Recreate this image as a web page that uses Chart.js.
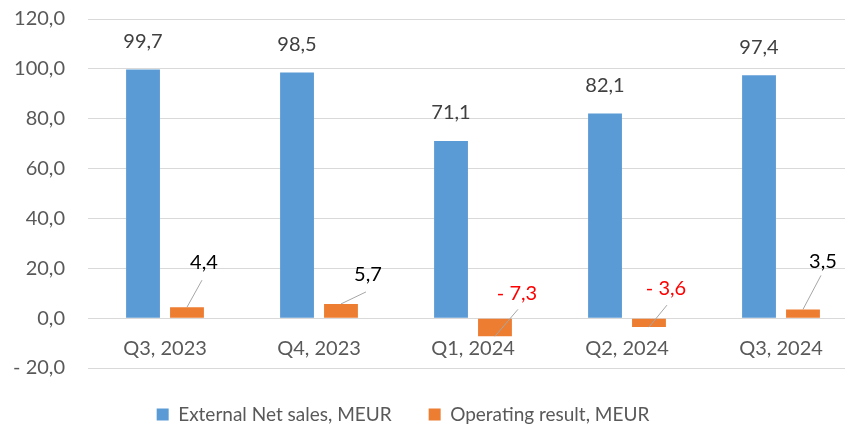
<!DOCTYPE html>
<html>
<head>
<meta charset="utf-8">
<script src="https://cdn.jsdelivr.net/npm/chart.js@4"></script>
<style>
  html, body { margin: 0; padding: 0; background: #fff; overflow: hidden; }
  #wrap { width: 858px; height: 427px; position: relative; }
</style>
</head>
<body>
<div id="wrap"><canvas id="chart"></canvas></div>
<script>
// Dữ liệu biểu đồ
const quarters = ["Q3, 2023", "Q4, 2023", "Q1, 2024", "Q2, 2024", "Q3, 2024"];
const netSales = [99.7, 98.5, 71.1, 82.1, 97.4];
const operatingResult = [4.4, 5.7, -7.3, -3.6, 3.5];
const yTicks = [-20, 0, 20, 40, 60, 80, 100, 120];

const FONT = "Lato, 'Liberation Sans', sans-serif";

// Định dạng số kiểu "- 7,3"
function fmt(v) {
    return (v < 0 ? "- " : "") + Math.abs(v).toFixed(1).replace(".", ",");
}

// Vẽ nhãn giá trị và đường dẫn cho cột cam
const valueLabels = {
    id: "valueLabels",
    beforeDraw(chart) {
        // canh chú thích theo vùng nhìn thấy 845px
        if (chart.legend) {
            chart.legend.right = 806;
        }
    },
    afterDatasetsDraw(chart, args, opts) {
        const ctx = chart.ctx;
        ctx.save();
        ctx.font = "20px " + FONT;
        ctx.textAlign = "center";
        ctx.textBaseline = "middle";

        chart.getDatasetMeta(0).data.forEach((bar, i) => {
            ctx.fillStyle = "#404040";
            ctx.fillText(fmt(netSales[i]), bar.x, bar.y - 28);
        });

        chart.getDatasetMeta(1).data.forEach((bar, i) => {
            const v = operatingResult[i];
            const off = opts.offsets[i];
            ctx.strokeStyle = "#A6A6A6";
            ctx.lineWidth = 1;
            ctx.beginPath();
            ctx.moveTo(bar.x, bar.y);
            ctx.lineTo(bar.x + off.line[0], bar.y + off.line[1]);
            ctx.stroke();
            ctx.fillStyle = v < 0 ? "#FF0000" : "#000000";
            ctx.fillText(fmt(v), bar.x + off.text[0], bar.y + off.text[1]);
        });
        ctx.restore();
    }
};

const ctx = document.getElementById("chart").getContext("2d");
new Chart(ctx, {
    type: "bar",
    data: {
        labels: quarters,
        datasets: [
            {
                label: "External Net sales, MEUR",
                data: netSales,
                backgroundColor: "#5B9BD5",
                categoryPercentage: 0.571,
                barPercentage: 0.77,
            },
            {
                label: "Operating result, MEUR",
                data: operatingResult,
                backgroundColor: "#ED7D31",
                categoryPercentage: 0.571,
                barPercentage: 0.77,
            },
        ],
    },
    options: {
        responsive: true,
        maintainAspectRatio: false,
        animation: false,
        layout: { autoPadding: false, padding: { top: 19, right: 0, left: 0, bottom: -7 } },
        scales: {
            x: {
                position: { y: 0 },
                grid: { display: false },
                border: { display: false },
                ticks: { color: "#595959", font: { family: FONT, size: 20 }, padding: 10 },
            },
            y: {
                min: -20,
                max: 120,
                afterBuildTicks(scale) { scale.ticks = yTicks.map((v) => ({ value: v })); },
                grid: { color: "#D9D9D9", lineWidth: 1, drawTicks: false },
                border: { display: false },
                ticks: {
                    color: "#595959",
                    font: { family: FONT, size: 20 },
                    padding: 23,
                    callback: (v) => fmt(v),
                },
                afterFit(scale) {
                    scale.width = 88;
                    scale.paddingTop = 0;
                    scale.paddingBottom = 0;
                },
            },
        },
        plugins: {
            legend: {
                position: "bottom",
                labels: {
                    color: "#595959",
                    font: { family: FONT, size: 19 },
                    boxWidth: 12,
                    boxHeight: 12,
                    padding: 37,
                },
            },
            tooltip: { enabled: false },
            valueLabels: {
                offsets: [
                    { line: [15, -27], text: [17, -45] },
                    { line: [25, -12], text: [27, -29] },
                    { line: [23, -27], text: [22, -43] },
                    { line: [18, -22], text: [17, -39] },
                    { line: [18, -34], text: [20, -48] },
                ],
            },
        },
    },
    plugins: [valueLabels],
});
</script>
</body>
</html>
